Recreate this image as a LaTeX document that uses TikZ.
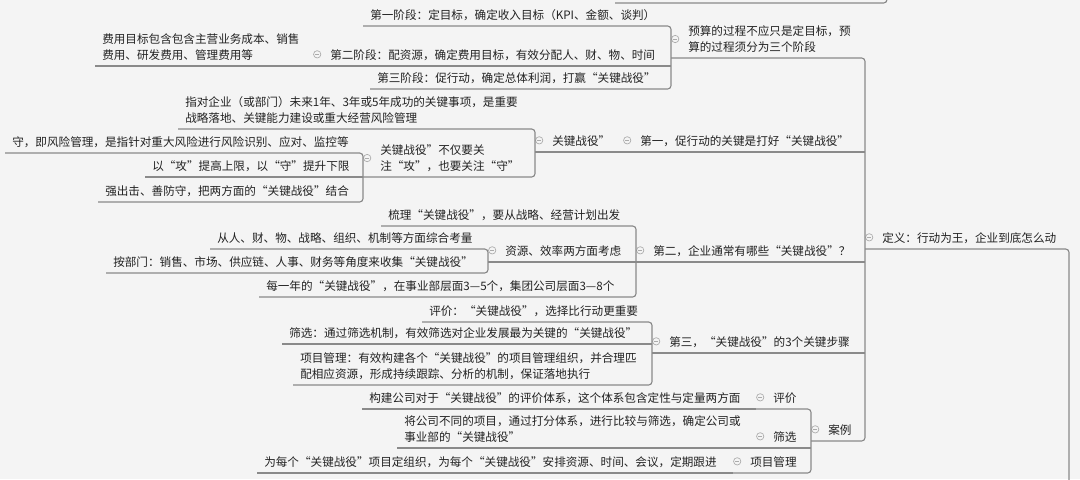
\documentclass[tikz,border=0pt]{standalone}
\usepackage{fontspec}
\setmainfont{Noto Sans CJK SC}
\usepackage{xcolor}
\usepackage{tikz}
\usetikzlibrary{positioning,calc}

\definecolor{canvas}{HTML}{F4F4F4}
\definecolor{ink}{HTML}{222222}
\definecolor{wire}{HTML}{8A8A8A}
\definecolor{knobgray}{HTML}{ABABAB}

\begin{document}
\begin{tikzpicture}[
        x=0.75pt, y=-0.75pt,
        font=\fontsize{8.7pt}{12pt}\selectfont,
        topic/.style={
            anchor=south west,
            align=left,
            text=ink,
            inner ysep=1.35pt,
            execute at begin node=\strut,
            execute at end node=\strut
        },
        leaf/.style={
            topic,
            inner xsep=5.25pt
        },
        branch/.style={
            topic,
            inner xsep=12.75pt,
            label={[knob, label distance=-6.15pt, yshift=1.2pt]west:{}}
        },
        knob/.style={
            circle,
            draw=knobgray,
            fill=canvas,
            line width=0.5pt,
            minimum size=5.5pt,
            inner sep=0pt,
            path picture={\draw[knobgray, line width=0.5pt]
                ([xshift=1.1pt]path picture bounding box.west) -- ([xshift=-1.1pt]path picture bounding box.east);}
        },
        link/.style={draw=wire, line width=0.85pt, rounded corners=2.5pt}
    ]

    \fill[canvas] (0,0) rectangle (1080,479);
    \useasboundingbox (0,0) rectangle (1080,479);
    \clip (0,0) rectangle (1080,479);

    \node[branch] (dingyi) at (865,249) {定义：行动为王，企业到底怎么动};

    \node[branch] (yusuan) at (671,58) {预算的过程不应只是定目标，预\\算的过程须分为三个阶段};
    \node[branch] (diyi) at (623,152) {第一，促行动的关键是打好“关键战役”};
    \node[branch] (dier) at (636,262) {第二，企业通常有哪些“关键战役”？};
    \node[branch] (disan) at (652,353) {第三，“关键战役”的3个关键步骤};
    \node[branch] (anli) at (811,441) {案例};

    \node[leaf] (stage1) at (363,26) {第一阶段：定目标，确定收入目标（KPI、金额、谈判）};
    \node[branch] (stage2) at (313,66) {第二阶段：配资源，确定费用目标，有效分配人、财、物、时间};
    \node[leaf] (stage2cost) at (95,66) {费用目标包含包含主营业务成本、销售\\费用、研发费用、管理费用等};
    \node[leaf] (stage3) at (370,89) {第三阶段：促行动，确定总体利润，打赢“关键战役”};

    \node[branch] (battle) at (535,152) {关键战役”};
    \node[leaf] (battledef) at (178,129) {指对企业（或部门）未来1年、3年或5年成功的关键事项，是重要\\战略落地、关键能力建设或重大经营风险管理};
    \node[branch] (attack) at (363,177) {关键战役”不仅要关\\注“攻”，也要关注“守”};
    \node[leaf] (defend) at (5,153) {守，即风险管理，是指针对重大风险进行风险识别、应对、监控等};
    \node[leaf] (limits) at (145,177) {以“攻”提高上限，以“守”提升下限};
    \node[leaf] (combine) at (98,202) {强出击、善防守，把两方面的“关键战役”结合};

    \node[leaf] (sortout) at (381,226) {梳理“关键战役”，要从战略、经营计划出发};
    \node[branch] (resource) at (488,262) {资源、效率两方面考虑};
    \node[leaf] (angles) at (210,249) {从人、财、物、战略、组织、机制等方面综合考量};
    \node[leaf] (depts) at (106,273) {按部门：销售、市场、供应链、人事、财务等角度来收集“关键战役”};
    \node[leaf] (yearly) at (259,297) {每一年的“关键战役”，在事业部层面3—5个，集团公司层面3—8个};

    \node[leaf] (assess) at (422,322) {评价：“关键战役”，选择比行动更重要};
    \node[leaf] (screen) at (282,344) {筛选：通过筛选机制，有效筛选对企业发展最为关键的“关键战役”};
    \node[leaf] (manage) at (293,385) {项目管理：有效构建各个“关键战役”的项目管理组织，并合理匹\\配相应资源，形成持续跟踪、分析的机制，保证落地执行};

    \node[branch] (caseassess) at (756,409) {评价};
    \node[leaf] (caseassessnote) at (362,409) {构建公司对于“关键战役”的评价体系，这个体系包含定性与定量两方面};
    \node[branch] (casescreen) at (756,448) {筛选};
    \node[leaf] (casescreennote) at (397,448) {将公司不同的项目，通过打分体系，进行比较与筛选，确定公司或\\事业部的“关键战役”};
    \node[branch] (casemanage) at (733,473) {项目管理};
    \node[leaf] (casemanagenote) at (257,473) {为每个“关键战役”项目定组织，为每个“关键战役”安排资源、时间、会议，定期跟进};

    \coordinate (rootbus) at (1069,495);
    \coordinate (prevtail) at (615,3);
    \coordinate (prevbus) at (887,-15);

    \draw[link] (prevtail) -| (prevbus);
    \draw[link] (dingyi.south west) -| (rootbus);

    \draw[link] (yusuan.south west) -- (yusuan.south west -| dingyi.south west) -- (anli.south west -| dingyi.south west) -- (anli.south west);
    \draw[link] (diyi.south west) -- (diyi.south west -| dingyi.south west);
    \draw[link] (dier.south west) -- (dier.south west -| dingyi.south west);
    \draw[link] (disan.south west) -- (disan.south west -| dingyi.south west);

    \draw[link] (stage1.south west) -- (stage1.south west -| yusuan.south west) -- (stage3.south west -| yusuan.south west) -- (stage3.south west);
    \draw[link] (stage2.south west) -- (stage2.south west -| yusuan.south west);
    \draw[link] (stage2cost.south west) -- (stage2cost.south west -| stage2.south west);

    \draw[link] (battle.south west) -- (battle.south west -| diyi.south west);
    \draw[link] (battledef.south west) -- (battledef.south west -| battle.south west) -- (attack.south west -| battle.south west) -- (attack.south west);
    \draw[link] (defend.south west) -- (defend.south west -| attack.south west) -- (combine.south west -| attack.south west) -- (combine.south west);
    \draw[link] (limits.south west) -- (limits.south west -| attack.south west);

    \draw[link] (sortout.south west) -- (sortout.south west -| dier.south west) -- (yearly.south west -| dier.south west) -- (yearly.south west);
    \draw[link] (resource.south west) -- (resource.south west -| dier.south west);
    \draw[link] (angles.south west) -- (angles.south west -| resource.south west) -- (depts.south west -| resource.south west) -- (depts.south west);

    \draw[link] (assess.south west) -- (assess.south west -| disan.south west) -- (manage.south west -| disan.south west) -- (manage.south west);
    \draw[link] (screen.south west) -- (screen.south west -| disan.south west);

    \draw[link] (caseassess.south west) -- (caseassess.south west -| anli.south west) -- (casemanage.south west -| anli.south west) -- (casemanage.south west);
    \draw[link] (casescreen.south west) -- (casescreen.south west -| anli.south west);
    \draw[link] (caseassessnote.south west) -- (caseassessnote.south west -| caseassess.south west);
    \draw[link] (casescreennote.south west) -- (casescreennote.south west -| casescreen.south west);
    \draw[link] (casemanagenote.south west) -- (casemanagenote.south west -| casemanage.south west);

\end{tikzpicture}
\end{document}
